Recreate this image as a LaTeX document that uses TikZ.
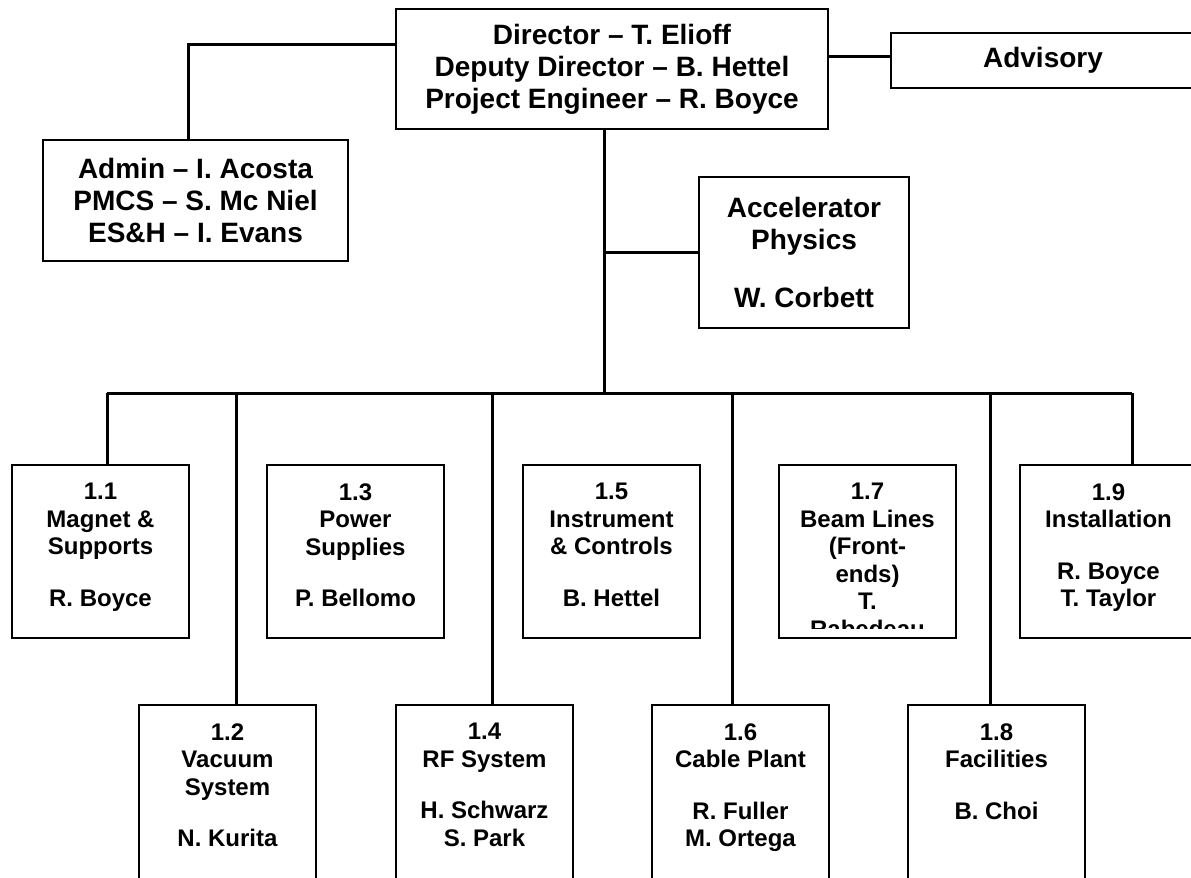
\documentclass[tikz,border=0pt]{standalone}
\usepackage{fontspec}
\setmainfont{Liberation Sans}
\newcommand\headfont{\fontsize{14}{16}\selectfont\bfseries}
\newcommand\unitfont{\fontsize{12}{13.75}\selectfont\bfseries}
\tikzset{
  headbox/.style={draw, line width=1.25pt, align=center, font=\headfont, inner sep=0pt, outer sep=0pt},
  unitbox/.style={draw, line width=1.25pt, anchor=north west, minimum width=88.5pt, minimum height=86.5pt, inner sep=0pt, outer sep=0pt},
  unitlow/.style={unitbox, minimum height=100pt},
  unittext/.style={anchor=north, align=center, font=\unitfont, inner sep=0pt, yshift=-9pt},
  link/.style={line width=1.5pt},
}
\begin{document}
\begin{tikzpicture}[x=0.5pt,y=-0.5pt]
\useasboundingbox (0,0) rectangle (1191,878);
\clip (0,0) rectangle (1191,878);
\fill[white] (0,0) rectangle (1191,878);

\node[headbox, minimum width=216pt, minimum height=60pt] (dir) at (612,69) {Director -- T. Elioff\\Deputy Director -- B. Hettel\\Project Engineer -- R. Boyce};
\node[headbox, minimum width=152.5pt, minimum height=60.5pt] (admin) at (195.5,200.5) {Admin -- I. Acosta\\PMCS -- S. Mc Niel\\ES\&H -- I. Evans};
\node[headbox, minimum width=152pt, minimum height=27.5pt] (adv) at (1043,60.5) {Advisory};
\node[headbox, minimum width=105pt, minimum height=75.5pt] (ap) at (804,252.5) {Accelerator\\Physics\\[13pt]W. Corbett};

\coordinate (hub) at (604,393);
\draw[link] ([yshift=12.5pt]dir.west) -| ([xshift=-3.75pt]admin.north);
\draw[link] ([yshift=2pt]adv.west) -- ([yshift=2pt]adv.west -| dir.east);
\draw[link] (dir.south -| hub) -- (hub);
\draw[link] (ap.west) -- (ap.west -| hub);

\node[unitbox] (u11) at (12,465) {};
\node[unitlow] (u12) at (139,705) {};
\node[unitbox] (u13) at (267,465) {};
\node[unitlow] (u14) at (396,705) {};
\node[unitbox] (u15) at (523,465) {};
\node[unitlow] (u16) at (652,705) {};
\node[unitbox] (u17) at (779,465) {};
\node[unitlow] (u18) at (908,705) {};
\node[unitbox] (u19) at (1020,465) {};

\node[unittext] (t11) at (u11.north) {1.1\\Magnet \&\\Supports\\[12pt]R. Boyce};
\node[unittext] (t12) at (u12.north) {1.2\\Vacuum\\System\\[12pt]N. Kurita};
\node[unittext] (t13) at (u13.north) {1.3\\Power\\Supplies\\[12pt]P. Bellomo};
\node[unittext] (t14) at (u14.north) {1.4\\RF System\\[12pt]H. Schwarz\\S. Park};
\node[unittext] (t15) at (u15.north) {1.5\\Instrument\\\& Controls\\[12pt]B. Hettel};
\node[unittext] (t16) at (u16.north) {1.6\\Cable Plant\\[12pt]R. Fuller\\M. Ortega};
\begin{scope}
\clip (779,465) rectangle (956,628);
\node[unittext] (t17) at (u17.north) {1.7\\Beam Lines\\(Front-\\ends)\\T.\\Rabedeau};
\end{scope}
\node[unittext] (t18) at (u18.north) {1.8\\Facilities\\[12pt]B. Choi};
\node[unittext] (t19) at (u19.north) {1.9\\Installation\\[12pt]R. Boyce\\T. Taylor};

\coordinate (d11) at (107,393);
\coordinate (d12) at (236,393);
\coordinate (d14) at (492,393);
\coordinate (d16) at (732,393);
\coordinate (d18) at (990,393);
\coordinate (d19) at (1132,393);
\draw[link] (d11) -- (d19);
\draw[link] (d11) -- (d11 |- u11.north);
\draw[link] (d12) -- (d12 |- u12.north);
\draw[link] (d14) -- (d14 |- u14.north);
\draw[link] (d16) -- (d16 |- u16.north);
\draw[link] (d18) -- (d18 |- u18.north);
\draw[link] (d19) -- (d19 |- u19.north);
\end{tikzpicture}
\end{document}
